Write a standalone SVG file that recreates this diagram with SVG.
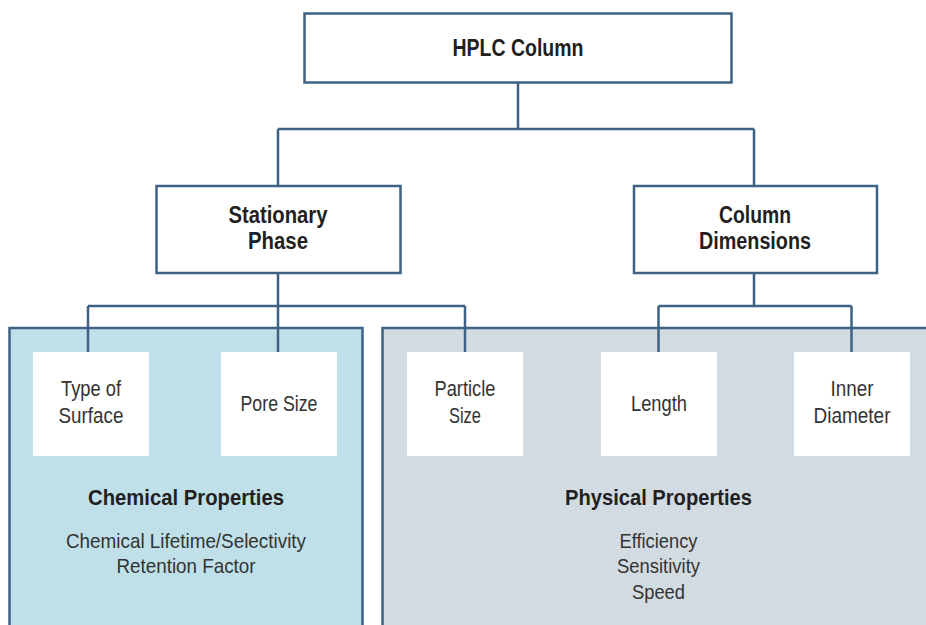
<svg xmlns="http://www.w3.org/2000/svg" width="926" height="625" viewBox="0 0 926 625">
<style>
.box{fill:#fff;stroke:#3d6285;stroke-width:2.5}
.leaf{fill:#fff}
.con{fill:none;stroke:#3d6285;stroke-width:2.5}
text{font-family:"Liberation Sans",Arial,sans-serif;fill:#231f20;text-anchor:middle}
.b{font-weight:bold;font-size:23px}
.r{font-size:22.5px;fill:#333}
.bb{font-weight:bold;font-size:21.5px}
.rr{font-size:21px;fill:#333}
</style>
<rect width="926" height="625" fill="#fff"/>
<g id="panel-chemical">
<rect x="9.5" y="328" width="353" height="310" fill="#bfe0e8" stroke="#3d6285" stroke-width="2.5"/>
<text class="bb" x="186" y="505" textLength="196" lengthAdjust="spacingAndGlyphs">Chemical Properties</text>
<text class="rr" x="186" y="548" textLength="240" lengthAdjust="spacingAndGlyphs">Chemical Lifetime/Selectivity</text>
<text class="rr" x="186" y="573" textLength="139" lengthAdjust="spacingAndGlyphs">Retention Factor</text>
</g>
<g id="panel-physical">
<rect x="382.5" y="328" width="560" height="310" fill="#d3dbe2" stroke="#3d6285" stroke-width="2.5"/>
<text class="bb" x="658.5" y="505" textLength="187" lengthAdjust="spacingAndGlyphs">Physical Properties</text>
<text class="rr" x="658.5" y="548" textLength="78" lengthAdjust="spacingAndGlyphs">Efficiency</text>
<text class="rr" x="658.5" y="573" textLength="83" lengthAdjust="spacingAndGlyphs">Sensitivity</text>
<text class="rr" x="658.5" y="599" textLength="53" lengthAdjust="spacingAndGlyphs">Speed</text>
</g>
<g id="connectors">
<path class="con" d="M518 83 V129 M278 129 H754 M278 129 V186 M754 129 V186"/>
<path class="con" d="M278 273 V306 M88 306 H465 M88 306 V352 M278 306 V352 M465 306 V352"/>
<path class="con" d="M754 273 V306 M658.5 306 H851.5 M658.5 306 V352 M851.5 306 V352"/>
</g>
<g id="hplc-column">
<rect class="box" x="304.5" y="13.5" width="427" height="69"/>
<text class="b" x="518" y="56" textLength="131" lengthAdjust="spacingAndGlyphs">HPLC Column</text>
</g>
<g id="stationary-phase">
<rect class="box" x="156.5" y="186" width="244" height="87"/>
<text class="b" x="278" y="223" textLength="99" lengthAdjust="spacingAndGlyphs">Stationary</text>
<text class="b" x="278" y="249" textLength="60" lengthAdjust="spacingAndGlyphs">Phase</text>
</g>
<g id="column-dimensions">
<rect class="box" x="634" y="186" width="243" height="87"/>
<text class="b" x="755" y="223" textLength="72" lengthAdjust="spacingAndGlyphs">Column</text>
<text class="b" x="755" y="249" textLength="112" lengthAdjust="spacingAndGlyphs">Dimensions</text>
</g>
<g id="type-of-surface">
<rect class="leaf" x="33" y="352" width="116" height="104"/>
<text class="r" x="91" y="396" textLength="60" lengthAdjust="spacingAndGlyphs">Type of</text>
<text class="r" x="91" y="423" textLength="65" lengthAdjust="spacingAndGlyphs">Surface</text>
</g>
<g id="pore-size">
<rect class="leaf" x="221" y="352" width="116" height="104"/>
<text class="r" x="279" y="411" textLength="77" lengthAdjust="spacingAndGlyphs">Pore Size</text>
</g>
<g id="particle-size">
<rect class="leaf" x="407" y="352" width="116" height="104"/>
<text class="r" x="465" y="396" textLength="61" lengthAdjust="spacingAndGlyphs">Particle</text>
<text class="r" x="465" y="423" textLength="32" lengthAdjust="spacingAndGlyphs">Size</text>
</g>
<g id="length">
<rect class="leaf" x="601" y="352" width="116" height="104"/>
<text class="r" x="659" y="411" textLength="56" lengthAdjust="spacingAndGlyphs">Length</text>
</g>
<g id="inner-diameter">
<rect class="leaf" x="794" y="352" width="116" height="104"/>
<text class="r" x="852" y="396" textLength="43" lengthAdjust="spacingAndGlyphs">Inner</text>
<text class="r" x="852" y="423" textLength="77" lengthAdjust="spacingAndGlyphs">Diameter</text>
</g>
</svg>
